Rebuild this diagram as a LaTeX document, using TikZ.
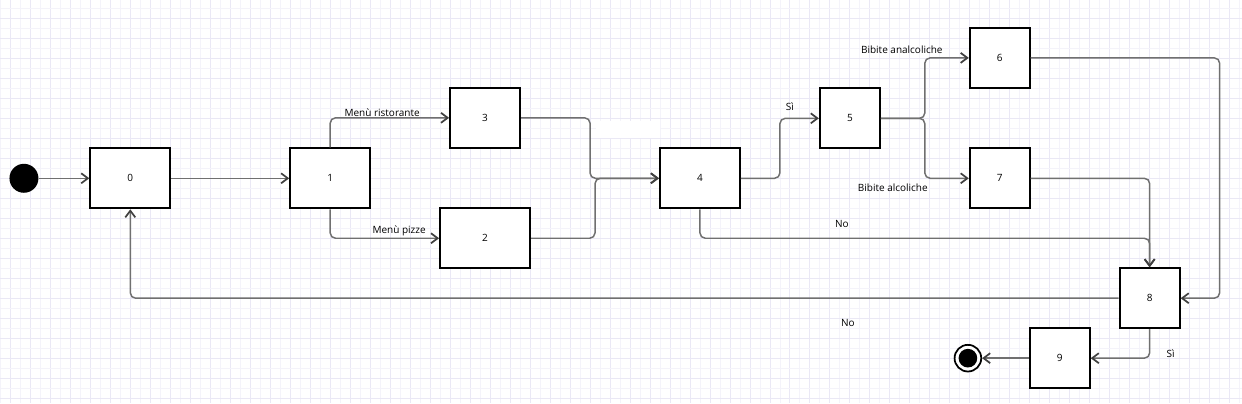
\documentclass[tikz,border=0pt]{standalone}
\usepackage{fontspec}
\setmainfont{Open Sans}
\usetikzlibrary{arrows.meta,positioning}

\definecolor{gridlo}{HTML}{F4F3FA}
\definecolor{gridhi}{HTML}{EAE8F5}
\definecolor{wire}{HTML}{707070}

\begin{document}
\begin{tikzpicture}[
  x=0.75pt, y=-0.75pt,
  node distance=35pt,
  font=\fontsize{7.5}{9}\selectfont,
  block/.style={
    draw=black,
    line width=1.5pt,
    fill=white,
    inner sep=0pt,
    minimum width=45pt,
    minimum height=45pt
  },
  wideblock/.style={
    block,
    minimum width=60pt
  },
  line/.style={
    draw=wire,
    line width=1.1pt,
    rounded corners=4pt,
    -{Straight Barb[length=5pt,width=7.5pt,line width=1.3pt,color=black!75]}
  },
  lbl/.style={inner sep=1pt}
]

% --- background grid ---
\fill[white] (0,0) rectangle (1242,403);
\foreach \x in {0,20,...,1240} \draw[gridlo,line width=0.6pt] (\x,0) -- (\x,403);
\foreach \x in {10,30,...,1240} \draw[gridhi,line width=0.6pt] (\x,0) -- (\x,403);
\foreach \y in {8,28,...,400} \draw[gridlo,line width=0.6pt] (0,\y) -- (1242,\y);
\foreach \y in {18,38,...,400} \draw[gridhi,line width=0.6pt] (0,\y) -- (1242,\y);
\useasboundingbox (0,0) rectangle (1242,403);

% --- states ---
\node[wideblock] (n0) at (130,178) {0};
\node[wideblock] (n1) at (330,178) {1};
\node[block,minimum width=52.5pt] (n3) at (485,117.5) {3};
\node[block,minimum width=67.5pt] (n2) at (485,238) {2};
\node[wideblock] (n4) at (700,178) {4};
\node[block] (n5) at (850,118) {5};
\node[block] (n6) at (1000,57.5) {6};
\node[block] (n7) at (1000,178) {7};
\node[block] (n8) at (1150,298) {8};
\node[block] (n9) at (1060,358) {9};

% initial / final pseudo-states
\node[circle,fill=black,inner sep=0pt,minimum size=21.75pt,left=38pt of n0] (ini) {};
\node[circle,draw=black,line width=1.3pt,fill=white,inner sep=0pt,minimum size=20pt,
  left=35pt of n9,
  path picture={\fill[black] (path picture bounding box.center) circle (7pt);}] (fin) {};

% empty label patch
\node[fill=white,minimum width=48pt,minimum height=13pt,inner sep=0pt] (blank) at (628,129) {};

% bends
\coordinate (j3) at (590,178);
\coordinate (j2) at (595,178);
\coordinate (j5) at (780,118);
\coordinate (j6) at (925,57.5);
\coordinate (j7) at (925,178);
\coordinate (j8) at (1150,238);
\coordinate (k8) at (1220,298);

% Arrows
\draw[line] (ini) -- (n0.west);
\draw[line] (n0) -- (n1);
\draw[line] (n1.north) |- (n3.west);
\draw[line] (n1.south) |- (n2.west);
\draw[line] (n3.east) -| (j3) -- (n4.west);
\draw[line] (n2.east) -| (j2) -- (n4.west);
\draw[line] (n4.east) -| (j5) -- (n5.west);
\draw[line] (n5.east) -| (j6) -- (n6.west);
\draw[line] (n5.east) -| (j7) -- (n7.west);
\draw[line] (n4.south) |- (j8) -- (n8.north);
\draw[line] (n7.east) -| (n8.north);
\draw[line] (n6.east) -| (k8) -- (n8.east);
\draw[line] (n8.west) -| (n0.south);
\draw[line] (n8.south) |- (n9.east);
\draw[line] (n9.west) -- (fin);

% Labels
\node[lbl] (l13) at (382,112) {Menù ristorante};
\node[lbl] (l12) at (399,231) {Menù pizze};
\node[lbl] (l45) at (790,106) {Sì};
\node[lbl] (l56) at (902,49) {Bibite analcoliche};
\node[lbl] (l57) at (893,187) {Bibite alcoliche};
\node[lbl] (l48) at (842,224) {No};
\node[lbl] (l80) at (848,323) {No};
\node[lbl] (l89) at (1171,354) {Sì};

\end{tikzpicture}
\end{document}
